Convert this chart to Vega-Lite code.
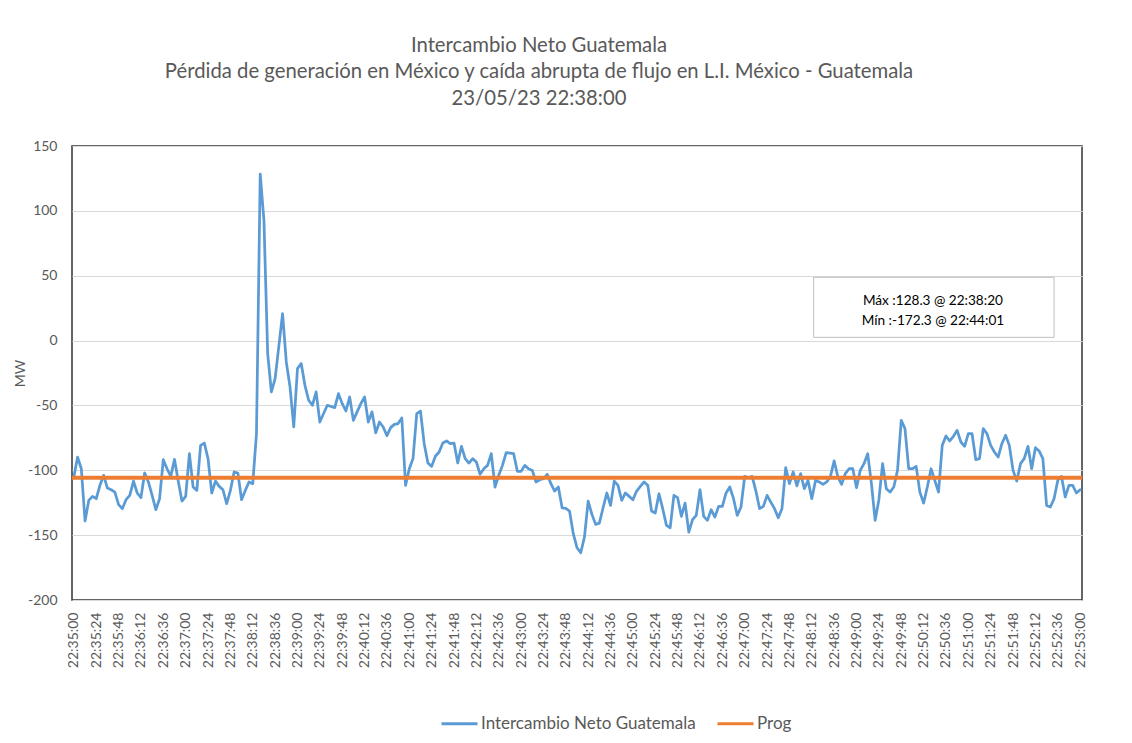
{
  "$schema": "https://vega.github.io/schema/vega-lite/v6.json",
  "width": 1010,
  "height": 454,
  "autosize": {"type": "none"},
  "padding": {"left": 72, "top": 146, "right": 50, "bottom": 143},
  "background": "white",
  "title": {
    "text": ["Intercambio Neto Guatemala", "Pérdida de generación en México y caída abrupta de flujo en L.I. México - Guatemala", "23/05/23 22:38:00"],
    "font": "Lato", "fontSize": 20.3, "fontWeight": "normal", "color": "#595959",
    "anchor": "middle", "dx": -38, "offset": 30, "lineHeight": 26.5
  },
  "config": {
    "locale": {"number": {"decimal": ".", "thousands": ",", "grouping": [3], "currency": ["$", ""], "minus": "-"}},
    "view": {"stroke": "#333333", "strokeWidth": 1.5},
    "axis": {
      "labelFont": "Lato", "labelFontSize": 14, "labelColor": "#595959",
      "ticks": false, "tickSize": 0, "domain": false, "labelOverlap": false,
      "titleFont": "Lato", "titleFontSize": 14, "titleColor": "#595959", "titleFontWeight": "normal"
    },
    "axisX": {"labelOverlap": false, "labelFlush": false, "labelBound": false, "tickCount": 60},
    "axisY": {"tickCount": 20}
  },
  "layer": [
    {
      "encoding": {
        "x": {
          "field": "t", "type": "temporal",
          "scale": {"domain": [
            {"year": 1900, "month": 1, "date": 1, "hours": 22, "minutes": 34, "seconds": 58},
            {"year": 1900, "month": 1, "date": 1, "hours": 22, "minutes": 53, "seconds": 2}
          ]},
          "axis": {
            "title": null, "format": "%H:%M:%S", "labelAngle": -90, "labelPadding": 12, "tickCount": 60,
            "labelOverlap": false, "labelFlush": false, "labelBound": false, "grid": false,
            "values": [
              {"year":1900,"month":1,"date":1,"hours":22,"minutes":35,"seconds":0},
              {"year":1900,"month":1,"date":1,"hours":22,"minutes":35,"seconds":24},
              {"year":1900,"month":1,"date":1,"hours":22,"minutes":35,"seconds":48},
              {"year":1900,"month":1,"date":1,"hours":22,"minutes":36,"seconds":12},
              {"year":1900,"month":1,"date":1,"hours":22,"minutes":36,"seconds":36},
              {"year":1900,"month":1,"date":1,"hours":22,"minutes":37,"seconds":0},
              {"year":1900,"month":1,"date":1,"hours":22,"minutes":37,"seconds":24},
              {"year":1900,"month":1,"date":1,"hours":22,"minutes":37,"seconds":48},
              {"year":1900,"month":1,"date":1,"hours":22,"minutes":38,"seconds":12},
              {"year":1900,"month":1,"date":1,"hours":22,"minutes":38,"seconds":36},
              {"year":1900,"month":1,"date":1,"hours":22,"minutes":39,"seconds":0},
              {"year":1900,"month":1,"date":1,"hours":22,"minutes":39,"seconds":24},
              {"year":1900,"month":1,"date":1,"hours":22,"minutes":39,"seconds":48},
              {"year":1900,"month":1,"date":1,"hours":22,"minutes":40,"seconds":12},
              {"year":1900,"month":1,"date":1,"hours":22,"minutes":40,"seconds":36},
              {"year":1900,"month":1,"date":1,"hours":22,"minutes":41,"seconds":0},
              {"year":1900,"month":1,"date":1,"hours":22,"minutes":41,"seconds":24},
              {"year":1900,"month":1,"date":1,"hours":22,"minutes":41,"seconds":48},
              {"year":1900,"month":1,"date":1,"hours":22,"minutes":42,"seconds":12},
              {"year":1900,"month":1,"date":1,"hours":22,"minutes":42,"seconds":36},
              {"year":1900,"month":1,"date":1,"hours":22,"minutes":43,"seconds":0},
              {"year":1900,"month":1,"date":1,"hours":22,"minutes":43,"seconds":24},
              {"year":1900,"month":1,"date":1,"hours":22,"minutes":43,"seconds":48},
              {"year":1900,"month":1,"date":1,"hours":22,"minutes":44,"seconds":12},
              {"year":1900,"month":1,"date":1,"hours":22,"minutes":44,"seconds":36},
              {"year":1900,"month":1,"date":1,"hours":22,"minutes":45,"seconds":0},
              {"year":1900,"month":1,"date":1,"hours":22,"minutes":45,"seconds":24},
              {"year":1900,"month":1,"date":1,"hours":22,"minutes":45,"seconds":48},
              {"year":1900,"month":1,"date":1,"hours":22,"minutes":46,"seconds":12},
              {"year":1900,"month":1,"date":1,"hours":22,"minutes":46,"seconds":36},
              {"year":1900,"month":1,"date":1,"hours":22,"minutes":47,"seconds":0},
              {"year":1900,"month":1,"date":1,"hours":22,"minutes":47,"seconds":24},
              {"year":1900,"month":1,"date":1,"hours":22,"minutes":47,"seconds":48},
              {"year":1900,"month":1,"date":1,"hours":22,"minutes":48,"seconds":12},
              {"year":1900,"month":1,"date":1,"hours":22,"minutes":48,"seconds":36},
              {"year":1900,"month":1,"date":1,"hours":22,"minutes":49,"seconds":0},
              {"year":1900,"month":1,"date":1,"hours":22,"minutes":49,"seconds":24},
              {"year":1900,"month":1,"date":1,"hours":22,"minutes":49,"seconds":48},
              {"year":1900,"month":1,"date":1,"hours":22,"minutes":50,"seconds":12},
              {"year":1900,"month":1,"date":1,"hours":22,"minutes":50,"seconds":36},
              {"year":1900,"month":1,"date":1,"hours":22,"minutes":51,"seconds":0},
              {"year":1900,"month":1,"date":1,"hours":22,"minutes":51,"seconds":24},
              {"year":1900,"month":1,"date":1,"hours":22,"minutes":51,"seconds":48},
              {"year":1900,"month":1,"date":1,"hours":22,"minutes":52,"seconds":12},
              {"year":1900,"month":1,"date":1,"hours":22,"minutes":52,"seconds":36},
              {"year":1900,"month":1,"date":1,"hours":22,"minutes":53,"seconds":0}
            ]
          }
        },
        "y": {
          "field": "v", "type": "quantitative",
          "scale": {"domain": [-200, 150], "nice": false, "zero": false},
          "axis": {
            "title": "MW", "values": [-200, -150, -100, -50, 0, 50, 100, 150], "tickCount": 20,
            "grid": true, "gridColor": "#d9d9d9", "gridWidth": 1, "labelPadding": 15, "titlePadding": 0
          }
        }
      },
      "layer": [
        {
          "data": {
            "format": {"parse": {"t": "date:'%H:%M:%S'"}},
            "values": [
              {"t":"22:35:00","v":-105.2},{"t":"22:35:04","v":-89.8},{"t":"22:35:08","v":-98.8},{"t":"22:35:12","v":-139.1},
              {"t":"22:35:16","v":-123.2},{"t":"22:35:20","v":-120.1},{"t":"22:35:24","v":-121.9},{"t":"22:35:28","v":-111.6},
              {"t":"22:35:32","v":-103.9},{"t":"22:35:36","v":-113.7},{"t":"22:35:40","v":-115},{"t":"22:35:44","v":-116.8},
              {"t":"22:35:48","v":-126.5},{"t":"22:35:52","v":-129.6},{"t":"22:35:56","v":-122.7},{"t":"22:36:00","v":-119.3},
              {"t":"22:36:04","v":-108.3},{"t":"22:36:08","v":-117.5},{"t":"22:36:12","v":-121.1},{"t":"22:36:16","v":-102.1},
              {"t":"22:36:20","v":-109},{"t":"22:36:24","v":-119.3},{"t":"22:36:28","v":-130.4},{"t":"22:36:32","v":-121.9},
              {"t":"22:36:36","v":-91.8},{"t":"22:36:40","v":-98.8},{"t":"22:36:44","v":-104.7},{"t":"22:36:48","v":-91.6},
              {"t":"22:36:52","v":-108.3},{"t":"22:36:56","v":-123.7},{"t":"22:37:00","v":-120.1},{"t":"22:37:04","v":-87.2},
              {"t":"22:37:08","v":-112.9},{"t":"22:37:12","v":-115.5},{"t":"22:37:16","v":-80.8},{"t":"22:37:20","v":-79},
              {"t":"22:37:24","v":-91},{"t":"22:37:28","v":-117.5},{"t":"22:37:32","v":-108.3},{"t":"22:37:36","v":-112.4},
              {"t":"22:37:40","v":-115},{"t":"22:37:44","v":-125.8},{"t":"22:37:48","v":-115.5},{"t":"22:37:52","v":-101.3},
              {"t":"22:37:56","v":-102.1},{"t":"22:38:00","v":-122.7},{"t":"22:38:04","v":-115.5},{"t":"22:38:08","v":-109},
              {"t":"22:38:12","v":-110.3},{"t":"22:38:16","v":-71.8},{"t":"22:38:20","v":128.3},{"t":"22:38:24","v":92.8},
              {"t":"22:38:28","v":-10},{"t":"22:38:32","v":-39.6},{"t":"22:38:36","v":-29.3},{"t":"22:38:44","v":20.8},
              {"t":"22:38:48","v":-16.5},{"t":"22:38:52","v":-35.8},{"t":"22:38:56","v":-66.6},{"t":"22:39:00","v":-21.6},
              {"t":"22:39:04","v":-17.7},{"t":"22:39:08","v":-34.5},{"t":"22:39:12","v":-46},{"t":"22:39:16","v":-49.9},
              {"t":"22:39:20","v":-39.6},{"t":"22:39:24","v":-62.8},{"t":"22:39:32","v":-49.9},{"t":"22:39:40","v":-51.7},
              {"t":"22:39:44","v":-40.9},{"t":"22:39:48","v":-48.6},{"t":"22:39:52","v":-54.3},{"t":"22:39:56","v":-43.5},
              {"t":"22:40:00","v":-61.5},{"t":"22:40:04","v":-55},{"t":"22:40:08","v":-48.6},{"t":"22:40:12","v":-43.5},
              {"t":"22:40:16","v":-62.8},{"t":"22:40:20","v":-55},{"t":"22:40:24","v":-71.2},{"t":"22:40:28","v":-62.8},
              {"t":"22:40:32","v":-66.6},{"t":"22:40:36","v":-73.3},{"t":"22:40:40","v":-67.1},{"t":"22:40:44","v":-64.6},
              {"t":"22:40:48","v":-64},{"t":"22:40:52","v":-59.7},{"t":"22:40:56","v":-111.6},{"t":"22:41:00","v":-98.8},
              {"t":"22:41:04","v":-91},{"t":"22:41:08","v":-56.3},{"t":"22:41:12","v":-54.3},{"t":"22:41:16","v":-79.5},
              {"t":"22:41:20","v":-94.4},{"t":"22:41:24","v":-97},{"t":"22:41:28","v":-89.2},{"t":"22:41:32","v":-85.9},
              {"t":"22:41:36","v":-79},{"t":"22:41:40","v":-77.4},{"t":"22:41:44","v":-79.5},{"t":"22:41:48","v":-79},
              {"t":"22:41:52","v":-94.4},{"t":"22:41:56","v":-81.5},{"t":"22:42:00","v":-91},{"t":"22:42:04","v":-94.4},
              {"t":"22:42:08","v":-91},{"t":"22:42:12","v":-93.6},{"t":"22:42:16","v":-103.1},{"t":"22:42:20","v":-98.8},
              {"t":"22:42:24","v":-96.2},{"t":"22:42:28","v":-87.2},{"t":"22:42:32","v":-112.9},{"t":"22:42:36","v":-103.9},
              {"t":"22:42:40","v":-96.2},{"t":"22:42:44","v":-86.4},{"t":"22:42:48","v":-86.7},{"t":"22:42:52","v":-87.2},
              {"t":"22:42:56","v":-100.8},{"t":"22:43:00","v":-100.8},{"t":"22:43:04","v":-96.2},{"t":"22:43:08","v":-98.8},
              {"t":"22:43:12","v":-100.1},{"t":"22:43:16","v":-109},{"t":"22:43:20","v":-107.3},{"t":"22:43:24","v":-106.5},
              {"t":"22:43:28","v":-103.1},{"t":"22:43:32","v":-110.3},{"t":"22:43:36","v":-116},{"t":"22:43:40","v":-112.9},
              {"t":"22:43:44","v":-128.9},{"t":"22:43:48","v":-129.4},{"t":"22:43:52","v":-131.4},{"t":"22:43:56","v":-148.9},
              {"t":"22:44:00","v":-159.7},{"t":"22:44:04","v":-163.6},{"t":"22:44:08","v":-151.5},{"t":"22:44:12","v":-123.7},
              {"t":"22:44:16","v":-134},{"t":"22:44:20","v":-141.7},{"t":"22:44:24","v":-140.7},{"t":"22:44:28","v":-128.9},
              {"t":"22:44:32","v":-117.5},{"t":"22:44:36","v":-127.1},{"t":"22:44:40","v":-108.3},{"t":"22:44:44","v":-111.6},
              {"t":"22:44:48","v":-123.2},{"t":"22:44:52","v":-117.5},{"t":"22:44:56","v":-120.1},{"t":"22:45:00","v":-122.7},
              {"t":"22:45:04","v":-116},{"t":"22:45:08","v":-112.4},{"t":"22:45:12","v":-109},{"t":"22:45:16","v":-111.6},
              {"t":"22:45:20","v":-131.4},{"t":"22:45:24","v":-133},{"t":"22:45:28","v":-118.1},{"t":"22:45:32","v":-129.6},
              {"t":"22:45:36","v":-142.5},{"t":"22:45:40","v":-144.3},{"t":"22:45:44","v":-119.3},{"t":"22:45:48","v":-121.1},
              {"t":"22:45:52","v":-135.5},{"t":"22:45:56","v":-125.3},{"t":"22:46:00","v":-147.6},{"t":"22:46:04","v":-138.1},
              {"t":"22:46:08","v":-134.8},{"t":"22:46:12","v":-115},{"t":"22:46:16","v":-135.5},{"t":"22:46:20","v":-138.6},
              {"t":"22:46:24","v":-130.4},{"t":"22:46:28","v":-136.1},{"t":"22:46:32","v":-127.8},{"t":"22:46:36","v":-127.8},
              {"t":"22:46:40","v":-117.5},{"t":"22:46:44","v":-112.9},{"t":"22:46:48","v":-121.9},{"t":"22:46:52","v":-134.8},
              {"t":"22:46:56","v":-128.3},{"t":"22:47:00","v":-104.7},{"t":"22:47:04","v":-105.7},{"t":"22:47:08","v":-104.7},
              {"t":"22:47:12","v":-116},{"t":"22:47:16","v":-129.6},{"t":"22:47:20","v":-127.8},{"t":"22:47:24","v":-119.3},
              {"t":"22:47:28","v":-124.5},{"t":"22:47:32","v":-129.6},{"t":"22:47:36","v":-136.6},{"t":"22:47:40","v":-129.6},
              {"t":"22:47:44","v":-98},{"t":"22:47:48","v":-110.3},{"t":"22:47:52","v":-101.3},{"t":"22:47:56","v":-112},
              {"t":"22:48:00","v":-102.6},{"t":"22:48:04","v":-114.2},{"t":"22:48:08","v":-107.8},{"t":"22:48:12","v":-121.9},
              {"t":"22:48:16","v":-107.8},{"t":"22:48:20","v":-109},{"t":"22:48:24","v":-110.9},{"t":"22:48:28","v":-109},
              {"t":"22:48:32","v":-104.7},{"t":"22:48:36","v":-92.8},{"t":"22:48:40","v":-105.2},{"t":"22:48:44","v":-110.9},
              {"t":"22:48:48","v":-102.6},{"t":"22:48:52","v":-98.8},{"t":"22:48:56","v":-98.8},{"t":"22:49:00","v":-113.4},
              {"t":"22:49:04","v":-100.1},{"t":"22:49:08","v":-94.9},{"t":"22:49:12","v":-87.2},{"t":"22:49:16","v":-110.3},
              {"t":"22:49:20","v":-138.6},{"t":"22:49:24","v":-122.7},{"t":"22:49:28","v":-94.9},{"t":"22:49:32","v":-114.2},
              {"t":"22:49:36","v":-116.8},{"t":"22:49:40","v":-112.9},{"t":"22:49:44","v":-100.1},{"t":"22:49:48","v":-61.5},
              {"t":"22:49:52","v":-67.9},{"t":"22:49:56","v":-98.8},{"t":"22:50:00","v":-98.8},{"t":"22:50:04","v":-97},
              {"t":"22:50:08","v":-116.8},{"t":"22:50:12","v":-125.3},{"t":"22:50:16","v":-112.9},{"t":"22:50:20","v":-98.8},
              {"t":"22:50:24","v":-107.8},{"t":"22:50:28","v":-116.8},{"t":"22:50:32","v":-80.8},{"t":"22:50:36","v":-73.6},
              {"t":"22:50:40","v":-77.4},{"t":"22:50:44","v":-73.8},{"t":"22:50:48","v":-69.2},{"t":"22:50:52","v":-78.2},
              {"t":"22:50:56","v":-81.5},{"t":"22:51:00","v":-71.8},{"t":"22:51:04","v":-71.8},{"t":"22:51:08","v":-91.8},
              {"t":"22:51:12","v":-91},{"t":"22:51:16","v":-67.9},{"t":"22:51:20","v":-71.8},{"t":"22:51:24","v":-80.8},
              {"t":"22:51:28","v":-85.9},{"t":"22:51:32","v":-89.8},{"t":"22:51:36","v":-79.5},{"t":"22:51:40","v":-73},
              {"t":"22:51:44","v":-80.8},{"t":"22:51:48","v":-100.1},{"t":"22:51:52","v":-108.3},{"t":"22:51:56","v":-94.9},
              {"t":"22:52:00","v":-91},{"t":"22:52:04","v":-81.5},{"t":"22:52:08","v":-98.8},{"t":"22:52:12","v":-82.6},
              {"t":"22:52:16","v":-85.1},{"t":"22:52:20","v":-91},{"t":"22:52:24","v":-127.1},{"t":"22:52:28","v":-128.3},
              {"t":"22:52:32","v":-121.9},{"t":"22:52:36","v":-107.8},{"t":"22:52:40","v":-104.7},{"t":"22:52:44","v":-120.6},
              {"t":"22:52:48","v":-111.6},{"t":"22:52:52","v":-111.6},{"t":"22:52:56","v":-117.5},{"t":"22:53:00","v":-115}
            ]
          },
          "mark": {"type": "line", "strokeWidth": 2.75, "strokeJoin": "round", "strokeCap": "round"},
          "encoding": {
            "color": {
              "datum": "Intercambio Neto Guatemala",
              "scale": {"domain": ["Intercambio Neto Guatemala", "Prog"], "range": ["#5B9BD5", "#ED7D31"]},
              "legend": {
                "title": null, "orient": "none", "legendX": 368, "legendY": 558, "direction": "horizontal",
                "symbolType": "stroke", "symbolSize": 1296, "symbolStrokeWidth": 3,
                "labelFont": "Lato", "labelFontSize": 17, "labelColor": "#595959", "labelOffset": 2,
                "columnPadding": 15, "labelLimit": 400
              }
            }
          }
        },
        {
          "data": {
            "format": {"parse": {"t": "date:'%H:%M:%S'"}},
            "values": [{"t": "22:35:00", "v": -105.7}, {"t": "22:53:00", "v": -105.7}]
          },
          "mark": {"type": "line", "strokeWidth": 4, "strokeCap": "square"},
          "encoding": {
            "color": {"datum": "Prog"}
          }
        }
      ]
    },
    {
      "data": {"values": [{"note": "Máx / Mín"}]},
      "mark": {"type": "rect", "fill": "white", "stroke": "#bfbfbf", "strokeWidth": 1},
      "encoding": {
        "x": {"datum": {"year": 1900, "month": 1, "date": 1, "hours": 22, "minutes": 48, "seconds": 14}, "type": "temporal"},
        "x2": {"datum": {"year": 1900, "month": 1, "date": 1, "hours": 22, "minutes": 52, "seconds": 32}},
        "y": {"datum": 48.8, "type": "quantitative"},
        "y2": {"datum": 2.5}
      }
    },
    {
      "data": {"values": [{"note": "Máx / Mín"}]},
      "mark": {
        "type": "text", "text": ["Máx :128.3 @ 22:38:20", "Mín :-172.3 @ 22:44:01"],
        "font": "Lato", "fontSize": 13.6, "color": "#000000", "align": "center", "baseline": "middle", "lineHeight": 19.4
      },
      "encoding": {
        "x": {"datum": {"year": 1900, "month": 1, "date": 1, "hours": 22, "minutes": 50, "seconds": 22}, "type": "temporal"},
        "y": {"datum": 30.3, "type": "quantitative"}
      }
    }
  ]
}
